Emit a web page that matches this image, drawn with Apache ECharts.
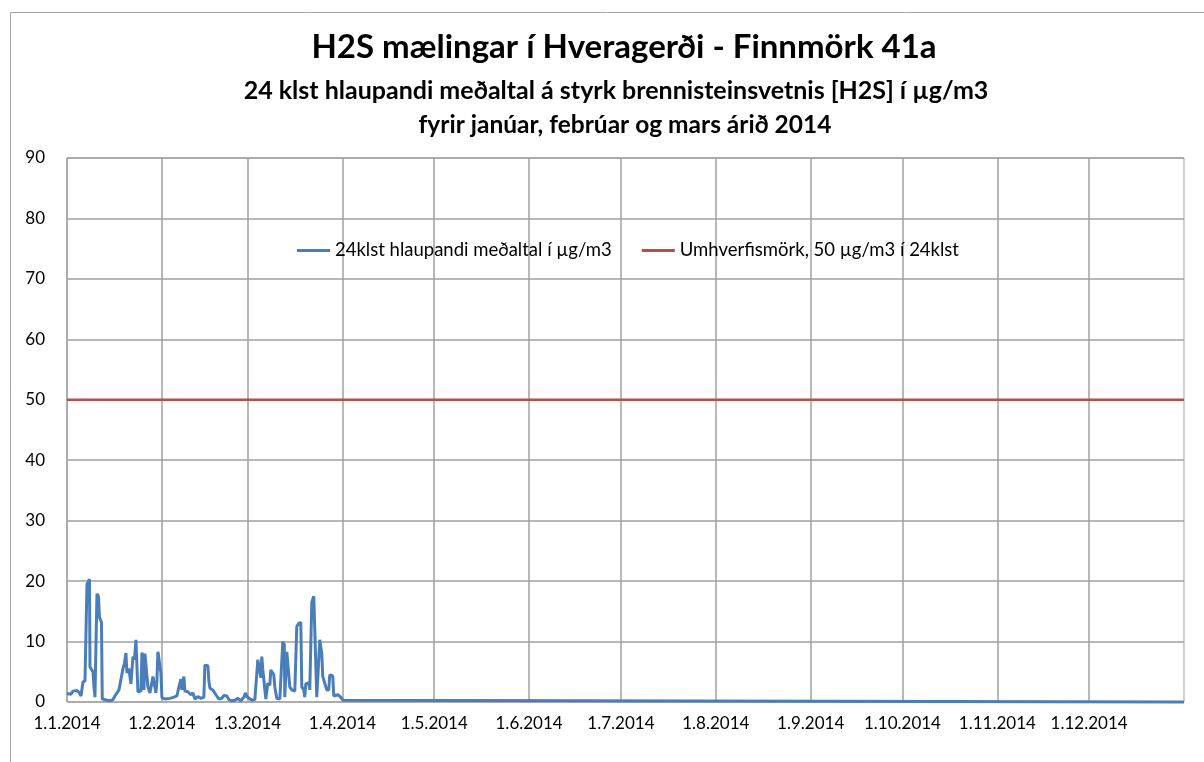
<!DOCTYPE html>
<html><head><meta charset="utf-8">
<script src="https://cdn.jsdelivr.net/npm/echarts@6/dist/echarts.min.js"></script>
<style>html,body{margin:0;padding:0;background:#fff}#c{width:1204px;height:762px}</style>
</head><body><div id="c"></div>
<script>
const titleLines = [
  'H2S mælingar í Hveragerði - Finnmörk 41a',
  '24 klst hlaupandi meðaltal á styrk brennisteinsvetnis [H2S] í µg/m3',
  'fyrir janúar, febrúar og mars árið 2014'
];
const seriesNames = ['24klst hlaupandi meðaltal í µg/m3', 'Umhverfismörk, 50 µg/m3 í 24klst'];
const monthTicks = ['2014-01-01','2014-02-01','2014-03-01','2014-04-01','2014-05-01','2014-06-01',
  '2014-07-01','2014-08-01','2014-09-01','2014-10-01','2014-11-01','2014-12-01'];
const axisStart = '2014-01-01';
const axisEnd = '2015-01-01';
const yMin = 0, yMax = 90, yStep = 10;

// measured 24h running mean, x = day offset from 1.1.2014 (fractional days)
const measDays = [0,0.65,1.31,1.96,2.61,3.26,3.92,4.57,5.06,5.22,5.88,6.2,6.53,7.02,7.35,7.51,8.16,8.49,8.81,9.14,9.47,9.79,10.28,10.61,10.94,11.26,11.52,
  12.08,13.06,14.04,15.02,15.67,16.32,16.98,17.63,18.28,18.77,19.26,19.59,20.24,20.89,21.22,21.55,22.04,22.53,22.85,23.18,23.83,24.16,24.49,24.81,25.14,25.47,26.12,26.44,
  27.10,27.75,28.08,28.73,29.06,29.38,29.71,30.36,30.69,31.02,32.0,33.63,34.93,35.91,36.57,37.22,37.54,37.87,38.20,38.52,39.50,40.48,41.14,41.79,42.77,43.75,44.73,45.05,
  46.03,46.36,46.69,47.67,48.64,49.62,50.60,51.26,52.24,52.89,53.87,54.85,55.83,56.81,57.79,58.28,58.77,59.42,60.40,61.38,62.03,62.36,63.01,63.34,63.66,63.99,64.64,64.97,
  65.62,66.28,66.60,67.25,67.58,67.91,68.56,69.54,70.19,70.52,71.01,71.17,71.83,72.48,72.80,73.46,74.44,75.09,75.74,76.40,76.72,77.38,77.70,78.03,79.01,79.33,79.99,80.64,
  81.29,81.62,82.27,82.60,83.25,83.58,84.23,84.88,85.54,85.86,86.84,87.17,88.48,89.45,90.11,90.76,365];
const measValues = [1.4,1.6,1.3,1.8,1.5,1.9,1.6,1.0,1.2,3.3,3.5,3.4,19.5,19.8,20.3,5.8,5.6,5.0,2.5,0.8,1.0,17.9,17.5,14.0,13.6,13.2,0.5,
  0.2,0.3,0.2,0.4,1.0,1.2,2.0,2.2,5.5,6.4,8.1,4.8,5.5,3.0,2.8,7.5,7.0,10.3,6.0,1.7,1.5,1.8,8.2,7.9,2.0,8.0,7.8,2.5,
  1.5,1.7,4.2,4.0,1.5,3.5,8.3,8.0,4.8,0.7,0.5,0.6,0.8,1.0,2.5,3.8,2.0,3.5,4.2,1.8,1.7,1.2,1.5,0.5,0.9,0.6,0.8,6.1,
  6.0,3.5,2.3,2.0,1.2,0.5,0.6,1.1,1.0,0.4,0.2,0.3,0.6,0.2,0.8,1.5,0.9,0.7,0.3,0.4,0.5,7.0,6.8,4.0,7.5,5.3,5.0,0.5,
  3.1,2.8,5.3,5.0,4.5,2.5,0.6,0.5,0.8,10.0,9.5,0.8,8.3,8.0,2.5,2.0,1.8,12.5,13.0,13.2,2.5,2.0,0.8,3.0,3.2,2.0,16.5,17.5,
  17.8,0.8,1.0,10.3,8.0,4.2,4.0,2.0,2.0,4.5,4.3,1.0,1.2,0.8,0.3,0.0,0.0];
const limitDays = [0, 365];
const limitValues = [50, 50];

function parseDate(s){ const p = s.split('-').map(Number); return Date.UTC(p[0], p[1]-1, p[2]); }
const DAY = 86400000;
const t0 = parseDate(axisStart);
const toDay = s => Math.round((parseDate(s) - t0) / DAY);
const tickDays = monthTicks.map(toDay);
const endDay = toDay(axisEnd);
const dayLabel = {};
monthTicks.forEach((s,i)=>{ const p=s.split('-').map(Number); dayLabel[tickDays[i]] = p[2]+'.'+p[1]+'.'+p[0]; });
const measData = measDays.map((d,i)=>[d, measValues[i]]);
const limitData = limitDays.map((d,i)=>[d, limitValues[i]]);

const FONT = 'Lato, "Open Sans", sans-serif';
const chart = echarts.init(document.getElementById('c'), null, {renderer:'canvas'});
chart.setOption({
  animation:false,
  backgroundColor:'#fff',
  textStyle:{fontFamily:FONT},
  graphic:[
    {type:'polyline', silent:true, shape:{points:[[10.5,762],[10.5,12.5],[1204,12.5]]}, style:{stroke:'#a6a6a6', lineWidth:1, fill:null}},
    {type:'text', x:624, y:47, style:{text:titleLines[0], font:'bold 33px '+FONT, fill:'#000', align:'center', verticalAlign:'middle'}},
    {type:'text', x:616, y:91, style:{text:titleLines[1], font:'bold 25px '+FONT, fill:'#000', align:'center', verticalAlign:'middle'}},
    {type:'text', x:625, y:125, style:{text:titleLines[2], font:'bold 24.5px '+FONT, fill:'#000', align:'center', verticalAlign:'middle'}}
  ],
  legend:{
    left:297, top:241, padding:0, icon:'rect', itemWidth:33, itemHeight:3, itemGap:30,
    textStyle:{fontSize:18.5, color:'#000', fontFamily:FONT},
    data:seriesNames
  },
  grid:{left:67, right:20, top:158, bottom:60, show:true, borderColor:'#a0a0a0', borderWidth:1, containLabel:false},
  xAxis:{
    type:'value', min:0, max:endDay,
    axisLine:{show:false},
    axisTick:{show:false, customValues:tickDays},
    axisLabel:{customValues:tickDays, color:'#000', fontSize:17, fontFamily:FONT, margin:13, hideOverlap:false,
      formatter:function(v){ return dayLabel[Math.round(v)] || ''; }},
    splitLine:{show:true, lineStyle:{color:'#a0a0a0', width:1.5}}
  },
  yAxis:{
    type:'value', min:yMin, max:yMax, interval:yStep,
    axisLine:{show:false}, axisTick:{show:false},
    axisLabel:{color:'#000', fontSize:17, fontFamily:FONT, margin:22},
    splitLine:{show:true, lineStyle:{color:'#a0a0a0', width:1.5}}
  },
  series:[
    {name:seriesNames[0], type:'line', data:measData, clip:false, showSymbol:false, symbol:'none', lineStyle:{color:'#4a7ebb', width:3}, itemStyle:{color:'#4a7ebb'}},
    {name:seriesNames[1], type:'line', data:limitData, clip:false, showSymbol:false, symbol:'none', lineStyle:{color:'#be4b48', width:2.5}, itemStyle:{color:'#be4b48'}}
  ]
});
</script></body></html>
